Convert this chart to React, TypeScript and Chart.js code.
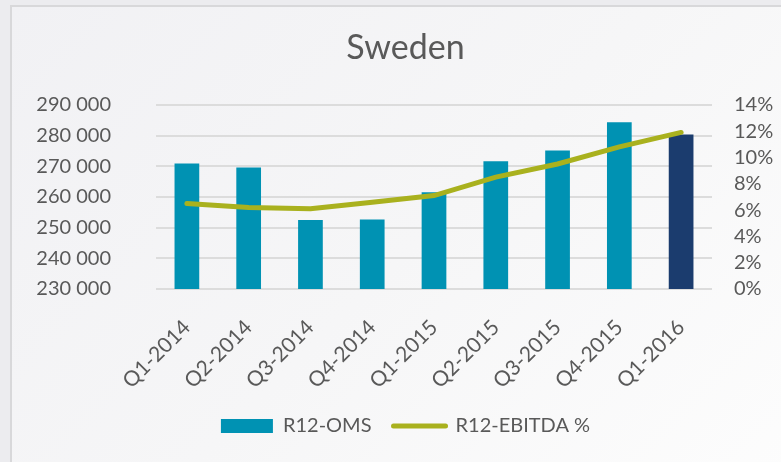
import React, { useEffect, useRef } from "react";
import { Chart, registerables } from "chart.js";

Chart.register(...registerables);

const categories = ["Q1-2014", "Q2-2014", "Q3-2014", "Q4-2014", "Q1-2015", "Q2-2015", "Q3-2015", "Q4-2015", "Q1-2016"];
const r12Oms = [270900, 269600, 252500, 252600, 261500, 271600, 275100, 284300, 280300];
const r12EbitdaPct = [0.065, 0.062, 0.061, 0.066, 0.071, 0.085, 0.095, 0.108, 0.119];
const barColors = ["#0092B3", "#0092B3", "#0092B3", "#0092B3", "#0092B3", "#0092B3", "#0092B3", "#0092B3", "#1B3C6E"];
const titleText = "Sweden";
const omsLabel = "R12-OMS";
const ebitdaLabel = "R12-EBITDA %";

const FONT = "Lato, 'Open Sans', sans-serif";
const TEXT = "#595959";
const LINE = "#A9B11E";

function fmtThousands(v: number): string {
  return String(Math.round(v)).replace(/\B(?=(\d{3})+(?!\d))/g, " ");
}

export default function App() {
  const ref = useRef<HTMLCanvasElement | null>(null);

  useEffect(() => {
    document.body.style.margin = "0";
    const ctx = ref.current!.getContext("2d")!;
    const chart = new Chart(ctx, {
      type: "bar",
      data: {
        labels: categories,
        datasets: [
          {
            type: "bar",
            label: omsLabel,
            data: r12Oms,
            backgroundColor: barColors,
            yAxisID: "y",
            order: 1,
            barPercentage: 0.4,
            categoryPercentage: 1,
          },
          {
            type: "line",
            label: ebitdaLabel,
            data: r12EbitdaPct,
            borderColor: LINE,
            backgroundColor: LINE,
            borderWidth: 5,
            borderCapStyle: "round",
            pointRadius: 0,
            pointStyle: "line",
            tension: 0,
            yAxisID: "y1",
            order: 0,
          } as any,
        ],
      },
      options: {
        responsive: false,
        animation: false,
        layout: { padding: { top: 0, left: 30, right: 0, bottom: 16 } },
        plugins: {
          tooltip: { enabled: false },
          title: {
            display: true,
            text: titleText,
            color: TEXT,
            font: { family: FONT, size: 34, weight: "normal" },
            padding: { top: 28, bottom: 36 },
          },
          legend: {
            position: "bottom",
            labels: {
              usePointStyle: true,
              pointStyleWidth: 52,
              boxHeight: 14,
              color: TEXT,
              font: { family: FONT, size: 20 },
              padding: 22,
              sort: (a: any, b: any) => a.datasetIndex - b.datasetIndex,
              generateLabels: (c: any) => {
                const items = Chart.defaults.plugins.legend.labels.generateLabels(c);
                items.forEach((it: any) => {
                  if (it.datasetIndex === 0) {
                    it.pointStyle = "rect";
                    it.fillStyle = barColors[0];
                    it.lineWidth = 0;
                  } else {
                    it.pointStyle = "line";
                    it.strokeStyle = LINE;
                    it.lineWidth = 5;
                    it.lineCap = "round";
                  }
                });
                return items;
              },
            },
          },
        },
        scales: {
          x: {
            grid: { display: false, drawTicks: false },
            border: { display: false },
            ticks: {
              color: TEXT,
              font: { family: FONT, size: 21 },
              minRotation: 45,
              maxRotation: 45,
              padding: 26,
              autoSkip: false,
            },
            afterFit: (s: any) => {
              s.height = 105;
            },
          },
          y: {
            position: "left",
            min: 230000,
            max: 290000,
            grid: { color: "#dcdcdc", lineWidth: 2, drawTicks: false },
            border: { display: false },
            ticks: {
              stepSize: 10000,
              autoSkip: false,
              color: TEXT,
              font: { family: FONT, size: 20 },
              padding: 45,
              callback: (v: any) => fmtThousands(Number(v)),
            },
            afterFit: (s: any) => {
              s.width = 126;
            },
          },
          y1: {
            position: "right",
            min: 0,
            max: 0.14,
            grid: { display: false, drawTicks: false },
            border: { display: false },
            ticks: {
              stepSize: 0.02,
              autoSkip: false,
              color: TEXT,
              font: { family: FONT, size: 20 },
              padding: 22,
              callback: (v: any) => Math.round(Number(v) * 100) + "%",
            },
            afterFit: (s: any) => {
              s.width = 69;
            },
          },
        },
      },
    });
    return () => chart.destroy();
  }, []);

  return (
    <div style={{ position: "fixed", left: 0, top: 0, width: 781, height: 462, background: "#ececef", overflow: "hidden" }}>
      <div
        style={{
          position: "absolute",
          left: 10,
          top: 5,
          width: 800,
          height: 480,
          border: "2px solid #d8d8da",
          background: "linear-gradient(135deg, #f1f1f4 0%, #f6f6f7 50%, #fdfdfd 100%)",
        }}
      />
      <canvas ref={ref} width={781} height={462} style={{ position: "absolute", left: 0, top: 0 }} />
    </div>
  );
}
